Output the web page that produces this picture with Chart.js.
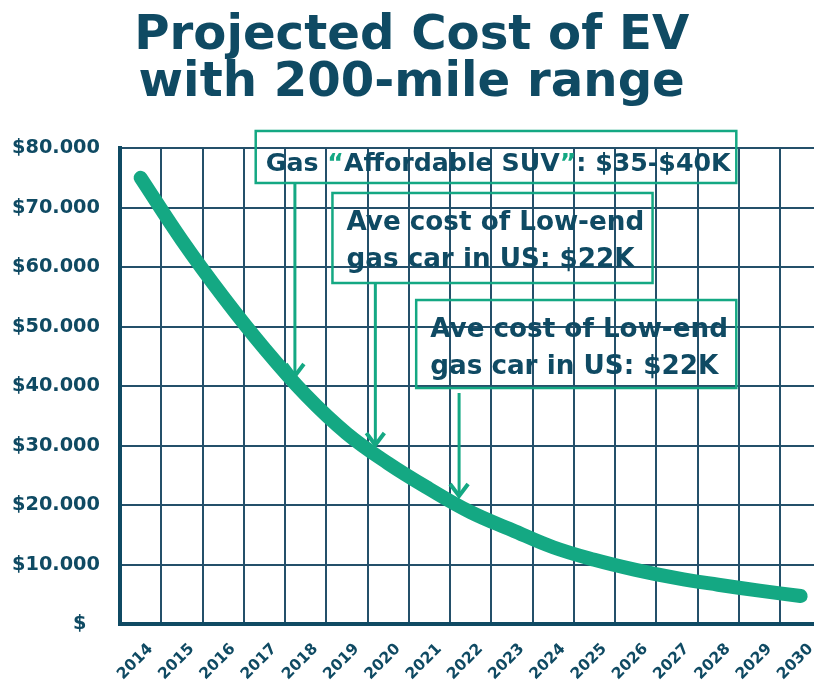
<!DOCTYPE html>
<html>
<head>
<meta charset="utf-8">
<script src="https://cdn.jsdelivr.net/npm/chart.js@4/dist/chart.umd.min.js"></script>
<style>
  html, body { margin: 0; padding: 0; background: #fff; overflow: hidden; }
  #wrap { width: 830px; height: 680px; }
</style>
</head>
<body>
<div id="wrap"><canvas id="myChart" width="830" height="680"></canvas></div>
<script>
// data
const years = ['2014', '2015', '2016', '2017', '2018', '2019', '2020', '2021', '2022',
    '2023', '2024', '2025', '2026', '2027', '2028', '2029', '2030'];
const evCost = [75000, 64500, 55000, 46300, 38500, 32000, 27000, 22700, 18800,
    15800, 12900, 10800, 9100, 7700, 6600, 5600, 4700];
const yTickLabels = ['$  ', '$10.000', '$20.000', '$30.000', '$40.000',
    '$50.000', '$60.000', '$70.000', '$80.000'];
const titleLines = ['Projected Cost of EV', 'with 200-mile range'];
const calloutLines = [
    ['Gas ', '\u201C', 'Affordable SUV', '\u201D', ': $35-$40K'],
    ['Ave cost of Low-end', 'gas car in US: $22K'],
    ['Ave cost of Low-end', 'gas car in US: $22K']
];
// callout boxes / arrows in data units (x = category index, y = dollars)
const calloutBoxX = [[2.79, 14.44], [4.65, 12.41], [6.68, 14.44]];
const calloutBoxY = [[82860, 74120], [72440, 57310], [54450, 39660]];
const arrowX = [3.74, 5.69, 7.72];
const arrowFrom = [74120, 57310, 38820];
const arrowTo = [41340, 29750, 21180];

var navy = '#0f4a63';
var green = '#14a883';
var titleFont = '"DejaVu Sans", sans-serif';
var labelFont = '"DejaVu Sans", sans-serif';

// pick a font size so a string gets a given width
var measurer = document.createElement('canvas').getContext('2d');
function fitSize(text, family, width) {
    measurer.font = 'bold 100px ' + family;
    return 100 * width / measurer.measureText(text).width;
}
var titleSize = fitSize(titleLines[0], titleFont, 555);
var boxSize = fitSize(calloutLines[1][0], labelFont, 298);
var box1Size = fitSize(calloutLines[0].join(''), labelFont, 462);
var ySize = fitSize('$80.000', labelFont, 88);

var callouts = {
    id: 'callouts',
    afterDatasetsDraw(chart) {
        var ctx = chart.ctx;
        var xs = chart.scales.x, ys = chart.scales.y;
        ctx.save();
        for (var i = 0; i < calloutLines.length; i++) {
            var x1 = xs.getPixelForValue(calloutBoxX[i][0]);
            var x2 = xs.getPixelForValue(calloutBoxX[i][1]);
            var y1 = ys.getPixelForValue(calloutBoxY[i][0]);
            var y2 = ys.getPixelForValue(calloutBoxY[i][1]);
            ctx.strokeStyle = green;
            ctx.lineWidth = 2.5;
            ctx.strokeRect(x1, y1, x2 - x1, y2 - y1);

            ctx.textBaseline = 'alphabetic';
            ctx.textAlign = 'left';
            if (i === 0) {
                // one line, quote marks in green
                ctx.font = 'bold ' + box1Size + 'px ' + labelFont;
                var tx = x1 + 10;
                calloutLines[0].forEach(function (part) {
                    ctx.fillStyle = (part === '\u201C' || part === '\u201D') ? green : navy;
                    ctx.fillText(part, tx, y1 + 40);
                    tx += ctx.measureText(part).width;
                });
            } else {
                ctx.font = 'bold ' + boxSize + 'px ' + labelFont;
                ctx.fillStyle = navy;
                calloutLines[i].forEach(function (line, k) {
                    ctx.fillText(line, x1 + 14, y1 + 37 + k * 37);
                });
            }

            // arrow
            var ax = xs.getPixelForValue(arrowX[i]);
            var ay1 = ys.getPixelForValue(arrowFrom[i]);
            var ay2 = ys.getPixelForValue(arrowTo[i]);
            ctx.strokeStyle = green;
            ctx.lineWidth = 3;
            ctx.beginPath();
            ctx.moveTo(ax, ay1);
            ctx.lineTo(ax, ay2 - 3);
            ctx.stroke();
            ctx.lineWidth = 4;
            ctx.lineJoin = 'miter';
            ctx.beginPath();
            ctx.moveTo(ax - 9, ay2 - 14);
            ctx.lineTo(ax, ay2 - 2);
            ctx.lineTo(ax + 9, ay2 - 14);
            ctx.stroke();
        }
        ctx.restore();
    }
};

var ctx = document.getElementById('myChart');
var myChart = new Chart(ctx, {
    type: 'line',
    data: {
        labels: years,
        datasets: [{
            label: 'EV cost',
            data: evCost,
            borderColor: green,
            borderWidth: 14,
            borderCapStyle: 'round',
            borderJoinStyle: 'round',
            tension: 0.4,
            pointRadius: 0,
            fill: false
        }]
    },
    options: {
        responsive: false,
        animation: false,
        layout: { padding: { top: 0, right: 6.6, bottom: 0, left: 0 } },
        plugins: {
            legend: { display: false },
            tooltip: { enabled: false },
            title: {
                display: true,
                text: titleLines,
                color: navy,
                font: { family: titleFont, size: titleSize, weight: 'bold', lineHeight: 47 / titleSize },
                padding: { top: 13, bottom: 41 }
            }
        },
        scales: {
            x: {
                offset: true,
                grid: { offset: true, color: '#24506a', lineWidth: 2, drawTicks: false },
                border: { color: navy, width: 4 },
                ticks: {
                    autoSkip: false,
                    maxRotation: 45,
                    minRotation: 45,
                    padding: 16,
                    labelOffset: 10,
                    color: navy,
                    font: { family: labelFont, size: 15.5, weight: 'bold' }
                },
                afterFit: function (s) { s.height = 56; }
            },
            y: {
                min: 0,
                max: 80000,
                grid: { color: '#24506a', lineWidth: 2, drawTicks: false },
                border: { color: navy, width: 4 },
                ticks: {
                    stepSize: 10000,
                    padding: 20,
                    color: navy,
                    font: { family: labelFont, size: ySize, weight: 'bold' },
                    callback: function (value, index) { return yTickLabels[index]; }
                },
                afterFit: function (s) { s.width = 120; }
            }
        }
    },
    plugins: [callouts]
});
</script>
</body>
</html>
